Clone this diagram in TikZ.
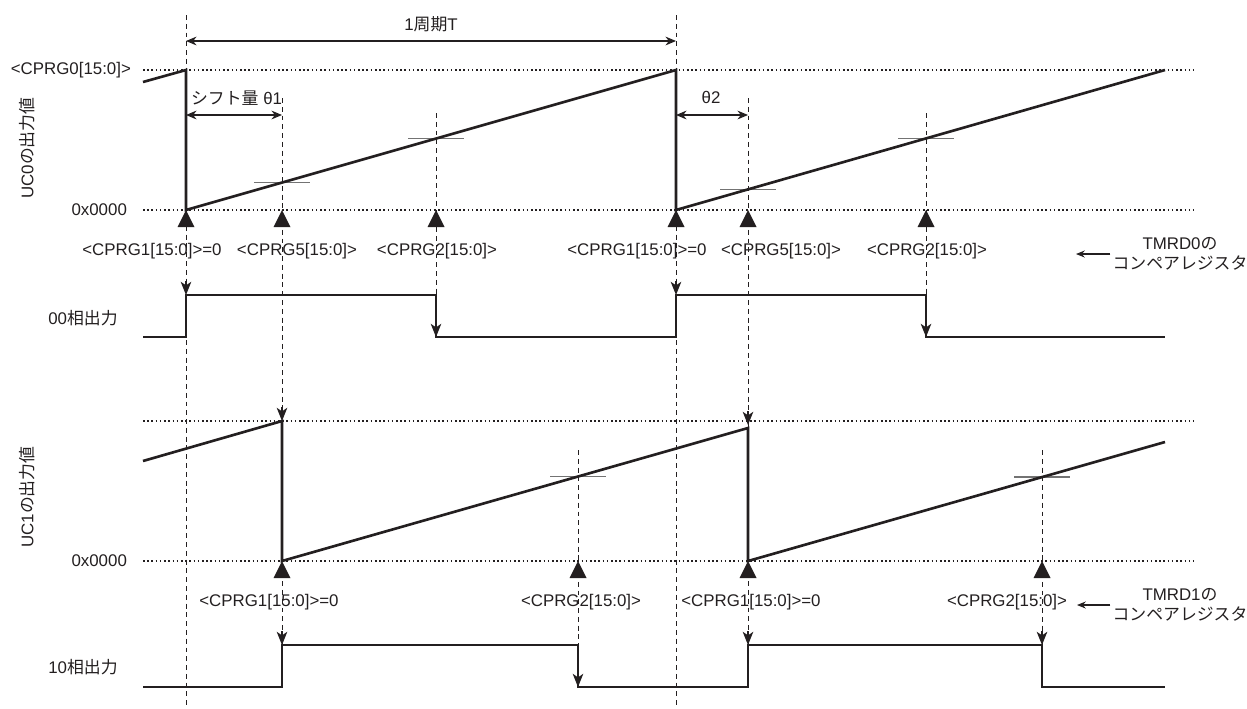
\documentclass[tikz,border=0pt]{standalone}
\usepackage{fontspec}
\setmainfont{Liberation Sans}
\newfontfamily\jpfont{Noto Sans CJK JP}
\usetikzlibrary{arrows.meta}
\definecolor{ink}{HTML}{231F20}

\begin{document}
\begin{tikzpicture}[x=0.02cm, y=-0.02cm, color=ink,
    labelStyle/.style={font=\fontsize{9.6}{11.5}\selectfont, inner sep=1pt},
    levelLine/.style={line width=0.9pt, dash pattern=on 0.9pt off 1.5pt},
    guideLine/.style={line width=0.55pt, dash pattern=on 2.8pt off 2.2pt},
    signalLine/.style={line width=1.5pt, line join=miter},
    crossTick/.style={line width=0.9pt, draw=black!55},
    dimArrow/.style={{Stealth[length=6pt,width=5pt]}-{Stealth[length=6pt,width=5pt]}, line width=0.6pt},
    hitTip/.style={solid, line width=0.7pt, -{Stealth[length=7.5pt,width=6pt,inset=2pt]}},
    noteArrow/.style={-{Stealth[length=5pt,width=4pt]}, line width=0.6pt}
]
    \useasboundingbox (0,0) rectangle (1247,708);

    % level lines
    \foreach \y in {70,210,421,561}
        \draw[levelLine] (143,\y) -- (1193,\y);

    % guide lines
    \foreach \x/\ya/\yb in {186/15/708, 676/15/708, 282/98/645, 748/98/645,
                            436/113/337, 926/113/337, 578/450/687, 1042/450/645}
        \draw[guideLine] (\x,\ya) -- (\x,\yb);
    \foreach \x/\y in {186/295, 676/295, 282/421, 282/645, 748/425, 748/645,
                       436/337, 926/337, 578/687, 1042/645}
        \draw[hitTip] (\x,\y-14) -- (\x,\y);

    % compare ticks
    \foreach \x/\y in {282/182.6, 436/138.6, 748/189.4, 926/138.6, 578/476.4, 1042/477}
        \draw[crossTick] (\x-28,\y) -- (\x+28,\y);

    % counters and outputs
    \draw[signalLine] (143,82) -- (186,70) -- (186,210) -- (676,70) -- (676,210) -- (1165,70);
    \draw[signalLine] (143,461) -- (282,421) -- (282,561) -- (748,428) -- (748,561) -- (1165,442);
    \draw[signalLine] (143,337) -- (186,337) -- (186,295) -- (436,295) -- (436,337)
        -- (676,337) -- (676,295) -- (926,295) -- (926,337) -- (1165,337);
    \draw[signalLine] (143,687) -- (282,687) -- (282,645) -- (578,645) -- (578,687)
        -- (748,687) -- (748,645) -- (1042,645) -- (1042,687) -- (1165,687);

    % match markers
    \foreach \x/\y in {186/210,282/210,436/210,676/210,748/210,926/210,282/561,578/561,748/561,1042/561}
        \fill (\x,\y) -- (\x-8.5,\y+17) -- (\x+8.5,\y+17) -- cycle;

    % period and shifts
    \draw[dimArrow] (186,41) -- (676,41);
    \draw[dimArrow] (186,115) -- (282,115);
    \draw[dimArrow] (676,115) -- (748,115);
    \node[labelStyle] (periodLabel) at (431,24) {1{\jpfont 周期}T};
    \node[labelStyle, anchor=west] (shiftOne) at (189,98) {{\jpfont シフト量} θ1};
    \node[labelStyle] (shiftTwo) at (711,97) {θ2};

    % axis labels
    \node[labelStyle, anchor=east] (maxLabel) at (133,70) {<CPRG0[15:0]>};
    \node[labelStyle, anchor=east] (zeroTop) at (129,210) {0x0000};
    \node[labelStyle, anchor=east] (zeroBottom) at (129,561) {0x0000};
    \node[labelStyle, rotate=90] (ucZero) at (27,148) {UC0{\jpfont の出力値}};
    \node[labelStyle, rotate=90] (ucOne) at (27,497) {UC1{\jpfont の出力値}};
    \node[labelStyle] (phaseZero) at (83,318) {00{\jpfont 相出力}};
    \node[labelStyle] (phaseOne) at (83,667) {10{\jpfont 相出力}};

    % compare register labels
    \node[labelStyle] (regA) at (152,251) {<CPRG1[15:0]>=0};
    \node[labelStyle] (regB) at (297,251) {<CPRG5[15:0]>};
    \node[labelStyle] (regC) at (437,251) {<CPRG2[15:0]>};
    \node[labelStyle] (regD) at (637,251) {<CPRG1[15:0]>=0};
    \node[labelStyle] (regE) at (781,251) {<CPRG5[15:0]>};
    \node[labelStyle] (regF) at (927,251) {<CPRG2[15:0]>};
    \node[labelStyle] (regG) at (269,602) {<CPRG1[15:0]>=0};
    \node[labelStyle] (regH) at (581,602) {<CPRG2[15:0]>};
    \node[labelStyle] (regI) at (751,602) {<CPRG1[15:0]>=0};
    \node[labelStyle] (regJ) at (1007,602) {<CPRG2[15:0]>};

    \node[labelStyle, align=center] (tmrdZero) at (1180,254) {TMRD0{\jpfont の}\\{\jpfont コンペアレジスタ}};
    \node[labelStyle, align=center] (tmrdOne) at (1180,605) {TMRD1{\jpfont の}\\{\jpfont コンペアレジスタ}};
    \coordinate (tmrdZeroTip) at (1076,254);
    \coordinate (tmrdOneTip) at (1077,605);
    \draw[noteArrow] (tmrdZero.west) -- (tmrdZeroTip);
    \draw[noteArrow] (tmrdOne.west) -- (tmrdOneTip);
\end{tikzpicture}
\end{document}
